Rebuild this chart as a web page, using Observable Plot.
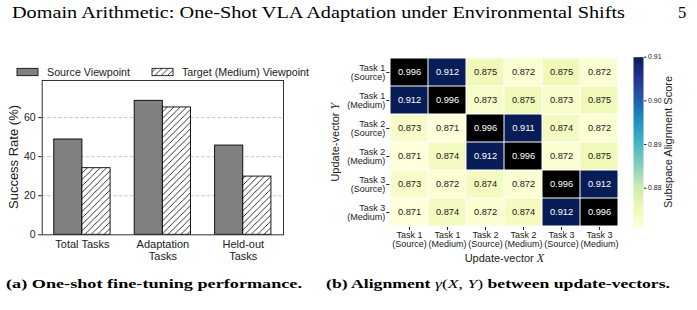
<!DOCTYPE html>
<html><head><meta charset="utf-8">
<script src="https://cdn.jsdelivr.net/npm/d3@7"></script>
<script src="https://cdn.jsdelivr.net/npm/@observablehq/plot@0.6"></script>
<style>
html,body{margin:0;padding:0;background:#fff;}
#page{position:relative;width:697px;height:310px;overflow:hidden;font-family:"Liberation Sans",Arial,sans-serif;}
#page > svg{position:absolute;overflow:visible;}
</style></head><body><div id="page"></div>
<script>
// ---------- data ----------
const GROUPS = ["Total Tasks", "Adaptation\nTasks", "Held-out\nTasks"];
const SERIES = ["Source Viewpoint", "Target (Medium) Viewpoint"];
const SOURCE = [48.8, 68.6, 45.7];
const TARGET = [34.1, 65.2, 29.8];
const Y_TICKS = [0, 20, 40, 60];

const TASKS = ["Task 1\n(Source)", "Task 1\n(Medium)", "Task 2\n(Source)", "Task 2\n(Medium)", "Task 3\n(Source)", "Task 3\n(Medium)"];
const MATRIX = [
  [0.996, 0.912, 0.875, 0.872, 0.875, 0.872],
  [0.912, 0.996, 0.873, 0.875, 0.873, 0.875],
  [0.873, 0.871, 0.996, 0.911, 0.874, 0.872],
  [0.871, 0.874, 0.912, 0.996, 0.872, 0.875],
  [0.873, 0.872, 0.874, 0.872, 0.996, 0.912],
  [0.871, 0.874, 0.872, 0.874, 0.912, 0.996]
];
const CBAR_DOMAIN = [0.871, 0.91];
const CBAR_TICKS = [0.88, 0.89, 0.90, 0.91];
const YLGNBU = ["#ffffd9","#edf8b1","#c7e9b4","#7fcdbb","#41b6c4","#1d91c0","#225ea8","#253494","#081d58"];

const HEADER = "Domain Arithmetic: One-Shot VLA Adaptation under Environmental Shifts";
const PAGE_NO = "5";

// ---------- setup ----------
const page = d3.select("#page");
const SANS = '"Liberation Sans", Arial, sans-serif';
const SERIF = '"Liberation Serif", "Times New Roman", serif';
const BW = 0.35;

// overlay svg for text & defs
const ov = page.append("svg").attr("width", 697).attr("height", 310)
  .style("left", "0px").style("top", "0px").style("font-family", SANS);
const defs = ov.append("defs");
const pat = defs.append("pattern").attr("id", "hatch").attr("patternUnits", "userSpaceOnUse")
  .attr("width", 6.4).attr("height", 6.4);
pat.append("rect").attr("width", 6.4).attr("height", 6.4).attr("fill", "white");
pat.append("path").attr("d", "M-1.6,1.6 L1.6,-1.6 M0,6.4 L6.4,0 M4.8,8 L8,4.8")
  .attr("stroke", "black").attr("stroke-width", 0.8);

// ---------- bar chart ----------
const bars = GROUPS.flatMap((g, i) => [{i, s: 0, v: SOURCE[i]}, {i, s: 1, v: TARGET[i]}]);
const barOpts = {x1: d => d.i - BW + d.s * BW, x2: d => d.i + d.s * BW, y: "v", stroke: "black", strokeWidth: 0.9};
const bar = Plot.plot({
  width: 300, height: 194,
  marginLeft: 41.7, marginRight: 17, marginTop: 4, marginBottom: 35.7,
  style: {fontFamily: SANS, color: "#222", background: "transparent", overflow: "visible"},
  x: {domain: [-0.5, 2.5]},
  y: {domain: [0, 79]},
  marks: [
    Plot.gridY(Y_TICKS.filter(t => t > 0), {stroke: "#c8c8c8", strokeOpacity: 1, strokeDasharray: "3.5,2"}),
    Plot.rectY(bars.filter(d => d.s === 0), {...barOpts, fill: "#808080"}),
    Plot.rectY(bars.filter(d => d.s === 1), {...barOpts, fill: "url(#hatch)"}),
    Plot.frame({stroke: "#333"}),
    Plot.axisY({ticks: Y_TICKS, tickSize: 3.5, tickPadding: 3, label: null, fontSize: 10.5}),
    Plot.axisX({ticks: d3.range(GROUPS.length), tickFormat: i => GROUPS[i], tickSize: 0, tickPadding: 5,
      label: null, fontSize: 11, lineHeight: 1.05})
  ]
});
d3.select(bar).style("left", "0px").style("top", "76px");
page.node().appendChild(bar);

// ---------- heatmap ----------
const colorOpts = {type: "linear", domain: CBAR_DOMAIN, interpolate: d3.piecewise(d3.interpolateRgb, YLGNBU), clamp: true};
const cells = MATRIX.flatMap((row, r) => row.map((v, c) => ({x: TASKS[c], y: TASKS[r], v, diag: r === c})));
const fmt3 = d3.format(".3f");
const heat = Plot.plot({
  width: 300, height: 220,
  marginLeft: 59.3, marginRight: 10.5, marginTop: 7.3, marginBottom: 43,
  style: {fontFamily: SANS, color: "#222", background: "transparent", overflow: "visible"},
  x: {domain: TASKS, padding: 0},
  y: {domain: TASKS, padding: 0},
  color: colorOpts,
  marks: [
    Plot.cell(cells.filter(d => !d.diag), {x: "x", y: "y", fill: "v", inset: 0.5}),
    Plot.cell(cells.filter(d => d.diag), {x: "x", y: "y", fill: "black", inset: 0.5}),
    Plot.text(cells.filter(d => d.v < 0.9), {x: "x", y: "y", text: d => fmt3(d.v), fill: "#1a1a1a", fontSize: 9.3}),
    Plot.text(cells.filter(d => d.v >= 0.9), {x: "x", y: "y", text: d => fmt3(d.v), fill: "white", fontSize: 9.3}),
    Plot.axisX({tickSize: 3, tickPadding: 1.5, fontSize: 9, lineHeight: 1.0, label: null}),
    Plot.axisY({tickSize: 3, tickPadding: 1.5, fontSize: 9, lineHeight: 1.05, label: null})
  ]
});
d3.select(heat).style("left", "330px").style("top", "50px");
page.node().appendChild(heat);

// ---------- colorbar ----------
const cbar = Plot.plot({
  width: 77, height: 190,
  marginLeft: 13, marginRight: 54, marginTop: 6.7, marginBottom: 13,
  style: {fontFamily: SANS, color: "#222", background: "transparent", overflow: "visible"},
  x: {domain: [0, 1], axis: null},
  y: {domain: CBAR_DOMAIN},
  color: colorOpts,
  marks: [
    Plot.raster({fill: (x, y) => y, x1: 0, x2: 1, y1: CBAR_DOMAIN[0], y2: CBAR_DOMAIN[1], width: 1, height: 256}),
    Plot.axisY({anchor: "right", ticks: CBAR_TICKS, tickFormat: d3.format(".2f"), tickSize: 2.5, tickPadding: 2, fontSize: 7, label: null})
  ]
});
d3.select(cbar).style("left", "620px").style("top", "50px");
page.node().appendChild(cbar);

// ---------- text overlay ----------
ov.append("text").attr("x", 12).attr("y", 18.3).attr("font-family", SERIF).attr("font-size", 16.5)
  .attr("textLength", 613).attr("lengthAdjust", "spacingAndGlyphs").text(HEADER);
ov.append("text").attr("x", 678).attr("y", 18.3).attr("font-family", SERIF).attr("font-size", 16.5).text(PAGE_NO);

// legend
const leg = [{x: 17, fill: "#808080"}, {x: 152, fill: "url(#hatch)"}];
leg.forEach((l, k) => {
  ov.append("rect").attr("x", l.x).attr("y", 68.3).attr("width", 21).attr("height", 7.4)
    .attr("fill", l.fill).attr("stroke", "black").attr("stroke-width", 0.8);
  ov.append("text").attr("x", l.x + 30).attr("y", 72).attr("dy", "0.35em").attr("font-size", 10.7)
    .attr("fill", "#222").text(SERIES[k]);
});

// axis labels
ov.append("text").attr("transform", "translate(18,157) rotate(-90)").attr("text-anchor", "middle")
  .attr("font-size", 13).attr("fill", "#222").text("Success Rate (%)");

const yl = ov.append("text").attr("transform", "translate(339,142.2) rotate(-90)").attr("text-anchor", "middle")
  .attr("font-size", 11).attr("fill", "#222");
yl.append("tspan").text("Update-vector ");
yl.append("tspan").attr("font-family", SERIF).attr("font-style", "italic").attr("font-size", 12).text("Y");

const xl = ov.append("text").attr("x", 504.4).attr("y", 262).attr("text-anchor", "middle")
  .attr("font-size", 11).attr("fill", "#222");
xl.append("tspan").text("Update-vector ");
xl.append("tspan").attr("font-family", SERIF).attr("font-style", "italic").attr("font-size", 12).text("X");

ov.append("text").attr("transform", "translate(672,142) rotate(-90)").attr("text-anchor", "middle")
  .attr("font-size", 11).attr("fill", "#222").text("Subspace Alignment Score");

// captions
ov.append("text").attr("x", 6).attr("y", 288.3).attr("font-family", SERIF).attr("font-weight", "bold")
  .attr("font-size", 12.5).attr("textLength", 296).attr("lengthAdjust", "spacingAndGlyphs")
  .text("(a) One-shot fine-tuning performance.");
const cb = ov.append("text").attr("x", 326).attr("y", 288.3).attr("font-family", SERIF).attr("font-weight", "bold")
  .attr("font-size", 12.5).attr("textLength", 344).attr("lengthAdjust", "spacingAndGlyphs");
cb.append("tspan").text("(b) Alignment ");
cb.append("tspan").attr("font-weight", "normal").attr("font-style", "italic").text("γ");
cb.append("tspan").attr("font-weight", "normal").text("(");
cb.append("tspan").attr("font-weight", "normal").attr("font-style", "italic").text("X");
cb.append("tspan").attr("font-weight", "normal").text(", ");
cb.append("tspan").attr("font-weight", "normal").attr("font-style", "italic").text("Y");
cb.append("tspan").attr("font-weight", "normal").text(")");
cb.append("tspan").text(" between update-vectors.");
</script></body></html>
